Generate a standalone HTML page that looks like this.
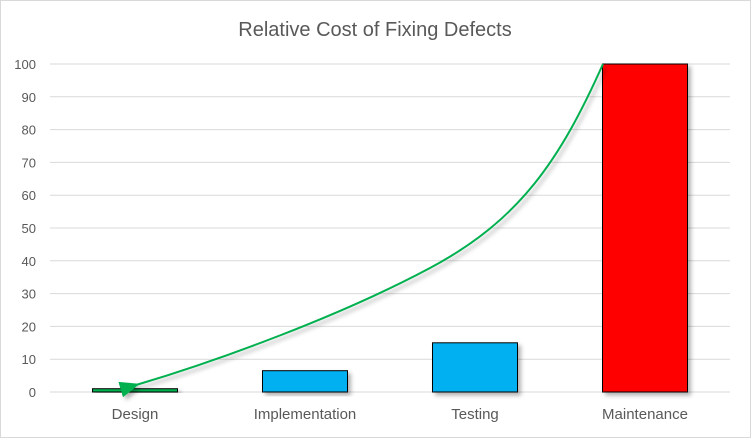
<!DOCTYPE html>
<html><head><meta charset="utf-8"><style>
body{margin:0;background:#fff;font-family:"Liberation Sans",sans-serif}
svg{display:block}
</style></head><body>
<svg width="751" height="438">
<defs>
<filter id="sh" x="-20%" y="-20%" width="140%" height="140%"><feDropShadow dx="3" dy="3" stdDeviation="2" flood-color="#000" flood-opacity="0.3"/></filter>
<marker id="ar" markerWidth="10" markerHeight="8" refX="2" refY="4" orient="auto"><path d="M10,0 L0,4 L10,8 z" fill="#00b050"/></marker>
</defs>
<rect x="0.5" y="0.5" width="750" height="437" fill="#fff" stroke="#d9d9d9"/>
<text x="375" y="36" text-anchor="middle" font-size="20" fill="#595959">Relative Cost of Fixing Defects</text>
<g id="grid"></g><g id="bars"></g>
<path d="M603,64 C560,160 520,220 430,268 S220,360 136,385" fill="none" stroke="#00b050" stroke-width="2" marker-end="url(#ar)" filter="url(#sh)"/>
</svg>
<script>
const categories=["Design","Implementation","Testing","Maintenance"];
const values=[1,6.5,15,100];
const colors=["#00b050","#00b0f0","#00b0f0","#ff0000"];
const ticks=[0,10,20,30,40,50,60,70,80,90,100];
const X0=50,X1=730,Y0=392,Y1=64;
const y=v=>Y0-(v/100)*(Y0-Y1);
const bw=(X1-X0)/categories.length;
const x=i=>X0+bw*i+bw/2;
const NS="http://www.w3.org/2000/svg";
const g=document.getElementById("grid"),b=document.getElementById("bars");
function mk(t,a,p){const e=document.createElementNS(NS,t);for(const k in a)e.setAttribute(k,a[k]);p.appendChild(e);return e;}
ticks.forEach(t=>{
 const l=mk("line",{x1:X0,x2:X1,y1:y(t),y2:y(t),stroke:"#d9d9d9"},g);
 
 
 const tx=mk("text",{x:36,y:y(t)+5,"text-anchor":"end","font-size":13,fill:"#595959"},g);
 tx.textContent=t;
 
 
});
categories.forEach((c,i)=>{
 const w=85;
 const r=mk("rect",{x:x(i)-w/2,y:y(values[i]),width:w,height:y(0)-y(values[i]),fill:colors[i],stroke:"#000","stroke-width":1,filter:"url(#sh)"},b);
 
 
 const t=mk("text",{x:x(i),y:419,"text-anchor":"middle","font-size":15,fill:"#595959"},b);
 t.textContent=c;
 
 
});
</script>
</body></html>
